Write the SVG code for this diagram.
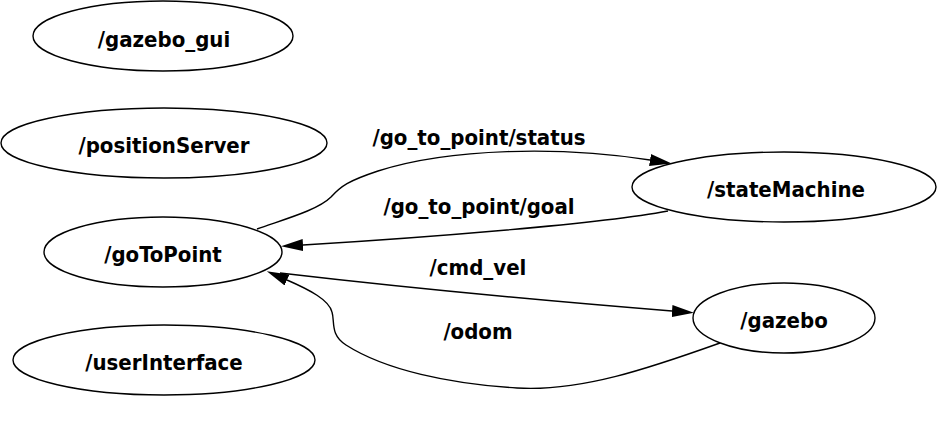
<svg xmlns="http://www.w3.org/2000/svg" width="938" height="424" viewBox="0 0 938 424">
<style>
.node ellipse{fill:none;stroke:#000;stroke-width:1.4}
.lbl{font-family:"DejaVu Sans Condensed","DejaVu Sans","Liberation Sans",sans-serif;font-stretch:condensed;font-weight:bold;font-size:22px;fill:#000;text-anchor:middle}
.edge{fill:none;stroke:#000;stroke-width:1.4}
</style>
<defs>
<marker id="arr" viewBox="0 0 22 12" refX="0" refY="6" markerWidth="22" markerHeight="12" markerUnits="userSpaceOnUse" orient="auto">
<path d="M0,0 L22,6 L0,12 z" fill="#000"/>
</marker>
</defs>
<rect width="938" height="424" fill="#fff"/>
<g id="connectors">
<path class="edge" d="M257,229 C285,219 318,210 331,197 C341,186 348,181 378,171 C450,148 560,146 650,160" marker-end="url(#arr)"/>
<path class="edge" d="M668,211 C600,224 420,238 303,245" marker-end="url(#arr)"/>
<path class="edge" d="M280,273 C400,287 560,302 672,311" marker-end="url(#arr)"/>
<path class="edge" d="M720,343 C650,368 580,392 517,388 C450,384 385,370 346,345 C330,335 335,322 332,312 C329,300 310,290 287,280" marker-end="url(#arr)"/>
<text class="lbl" x="479" y="145">/go_to_point/status</text>
<text class="lbl" x="479" y="214">/go_to_point/goal</text>
<text class="lbl" x="478" y="275">/cmd_vel</text>
<text class="lbl" x="478" y="339">/odom</text>
</g>
<g id="gazebo_gui" class="node"><ellipse cx="163" cy="36" rx="130" ry="35"/><text class="lbl" x="164" y="47">/gazebo_gui</text></g>
<g id="positionServer" class="node"><ellipse cx="164" cy="143" rx="163" ry="35"/><text class="lbl" x="164" y="153">/positionServer</text></g>
<g id="goToPoint" class="node"><ellipse cx="163" cy="252" rx="119" ry="35"/><text class="lbl" x="163" y="262">/goToPoint</text></g>
<g id="userInterface" class="node"><ellipse cx="164" cy="360" rx="151" ry="35"/><text class="lbl" x="164" y="370">/userInterface</text></g>
<g id="stateMachine" class="node"><ellipse cx="784" cy="187" rx="152" ry="35"/><text class="lbl" x="786" y="197">/stateMachine</text></g>
<g id="gazebo" class="node"><ellipse cx="784" cy="318" rx="91" ry="35"/><text class="lbl" x="784" y="328">/gazebo</text></g>
</svg>
